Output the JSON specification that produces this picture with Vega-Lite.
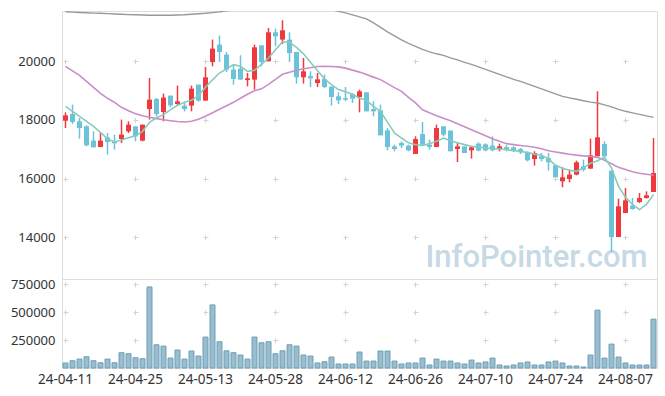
{
"$schema": "https://vega.github.io/schema/vega-lite/v6.json",
"padding": {"left": 0, "top": 10, "right": 9, "bottom": 0},
"autosize": {"type": "pad"},
"background": "white",
"spacing": 0,
"bounds": "flush",
"config": {
  "font": "Noto Sans",
  "view": {"stroke": "#dedede"},
  "axis": {"labelFont": "Noto Sans", "labelFontSize": 13, "labelColor": "#333333", "ticks": false, "tickSize": 0, "domain": false, "gridColor": "#d3d3d3", "title": null}
},
"datasets": {"p": [
{"d":"24-04-11","o":17978,"h":18261,"l":17726,"c":18159,"v":45000,"m5":18466,"m20":19830,"m60":21688},
{"d":"24-04-12","o":18203,"h":18524,"l":17863,"c":17931,"v":65000,"m5":18296,"m20":19676,"m60":21677},
{"d":"24-04-15","o":17955,"h":18067,"l":17365,"c":17726,"v":80000,"m5":18125,"m20":19523,"m60":21664},
{"d":"24-04-16","o":17784,"h":17818,"l":17102,"c":17136,"v":101000,"m5":17955,"m20":19318,"m60":21653},
{"d":"24-04-17","o":17297,"h":17614,"l":17068,"c":17068,"v":65000,"m5":17784,"m20":19114,"m60":21643},
{"d":"24-04-18","o":17078,"h":17556,"l":17078,"c":17297,"v":47000,"m5":17580,"m20":18909,"m60":21636},
{"d":"24-04-19","o":17409,"h":17556,"l":16819,"c":17249,"v":80000,"m5":17358,"m20":18739,"m60":21626},
{"d":"24-04-22","o":17273,"h":17501,"l":16990,"c":17205,"v":47000,"m5":17249,"m20":18602,"m60":21612},
{"d":"24-04-23","o":17351,"h":18013,"l":17215,"c":17501,"v":137000,"m5":17317,"m20":18432,"m60":21602},
{"d":"24-04-24","o":17614,"h":17955,"l":17556,"c":17842,"v":128000,"m5":17392,"m20":18313,"m60":21592},
{"d":"24-04-25","o":17784,"h":17784,"l":17273,"c":17443,"v":92000,"m5":17460,"m20":18210,"m60":21585},
{"d":"24-04-26","o":17297,"h":17842,"l":17273,"c":17842,"v":83000,"m5":17614,"m20":18142,"m60":21578},
{"d":"24-04-29","o":18374,"h":19431,"l":18013,"c":18694,"v":726000,"m5":17920,"m20":18091,"m60":21571},
{"d":"24-04-30","o":18715,"h":18749,"l":18125,"c":18203,"v":208000,"m5":18074,"m20":18047,"m60":21568},
{"d":"24-05-02","o":18272,"h":18899,"l":17955,"c":18763,"v":196000,"m5":18183,"m20":18006,"m60":21568},
{"d":"24-05-03","o":18831,"h":18831,"l":18432,"c":18500,"v":89000,"m5":18347,"m20":17975,"m60":21571},
{"d":"24-05-07","o":18544,"h":19172,"l":18490,"c":18636,"v":161000,"m5":18500,"m20":17948,"m60":21578},
{"d":"24-05-08","o":18490,"h":18602,"l":18295,"c":18374,"v":80000,"m5":18602,"m20":17934,"m60":21585},
{"d":"24-05-09","o":18490,"h":19172,"l":18295,"c":19069,"v":152000,"m5":18671,"m20":17955,"m60":21602},
{"d":"24-05-10","o":19206,"h":19206,"l":18626,"c":18660,"v":107000,"m5":18841,"m20":18023,"m60":21619},
{"d":"24-05-13","o":18660,"h":19806,"l":18660,"c":19455,"v":277000,"m5":19114,"m20":18125,"m60":21636},
{"d":"24-05-14","o":19976,"h":20740,"l":19830,"c":20433,"v":565000,"m5":19369,"m20":18245,"m60":21660},
{"d":"24-05-16","o":20569,"h":20876,"l":19976,"c":20317,"v":235000,"m5":19601,"m20":18364,"m60":21688},
{"d":"24-05-17","o":20228,"h":20317,"l":19635,"c":19717,"v":154000,"m5":19744,"m20":18483,"m60":21722},
{"d":"24-05-20","o":19717,"h":19887,"l":19206,"c":19397,"v":137000,"m5":19887,"m20":18602,"m60":21756},
{"d":"24-05-21","o":19751,"h":20205,"l":19376,"c":19376,"v":116000,"m5":19830,"m20":18739,"m60":21790},
{"d":"24-05-22","o":19362,"h":19601,"l":19148,"c":19420,"v":80000,"m5":19659,"m20":18875,"m60":21824},
{"d":"24-05-23","o":19376,"h":20569,"l":19035,"c":20477,"v":277000,"m5":19693,"m20":18994,"m60":21858},
{"d":"24-05-24","o":20545,"h":20545,"l":19830,"c":19976,"v":226000,"m5":19898,"m20":19063,"m60":21892},
{"d":"24-05-27","o":20000,"h":21135,"l":20000,"c":20989,"v":235000,"m5":20113,"m20":19216,"m60":21909},
{"d":"24-05-28","o":20989,"h":21115,"l":20511,"c":20852,"v":128000,"m5":20392,"m20":19386,"m60":21926},
{"d":"24-05-29","o":20740,"h":21398,"l":20590,"c":21057,"v":154000,"m5":20665,"m20":19557,"m60":21943},
{"d":"24-05-30","o":20740,"h":20989,"l":19976,"c":20283,"v":208000,"m5":20648,"m20":19625,"m60":21943},
{"d":"24-05-31","o":20317,"h":20317,"l":19240,"c":19455,"v":196000,"m5":20477,"m20":19693,"m60":21926},
{"d":"24-06-03","o":19455,"h":20113,"l":19240,"c":19659,"v":116000,"m5":20256,"m20":19744,"m60":21909},
{"d":"24-06-04","o":19499,"h":19659,"l":19124,"c":19420,"v":107000,"m5":19966,"m20":19778,"m60":21875},
{"d":"24-06-05","o":19260,"h":19601,"l":19124,"c":19386,"v":45000,"m5":19676,"m20":19823,"m60":21841},
{"d":"24-06-07","o":19397,"h":19547,"l":19090,"c":19124,"v":56000,"m5":19403,"m20":19830,"m60":21807},
{"d":"24-06-10","o":19138,"h":19138,"l":18490,"c":18783,"v":98000,"m5":19206,"m20":19823,"m60":21756},
{"d":"24-06-11","o":18807,"h":18943,"l":18544,"c":18670,"v":36000,"m5":19035,"m20":19809,"m60":21705},
{"d":"24-06-12","o":18749,"h":19124,"l":18636,"c":18694,"v":36000,"m5":18960,"m20":19768,"m60":21653},
{"d":"24-06-13","o":18885,"h":18919,"l":18578,"c":18728,"v":36000,"m5":18875,"m20":19700,"m60":21585},
{"d":"24-06-14","o":18783,"h":19035,"l":18261,"c":18977,"v":143000,"m5":18739,"m20":19632,"m60":21517},
{"d":"24-06-17","o":18943,"h":18943,"l":18295,"c":18295,"v":62000,"m5":18671,"m20":19547,"m60":21449},
{"d":"24-06-18","o":18374,"h":18636,"l":18125,"c":18295,"v":62000,"m5":18466,"m20":19461,"m60":21312},
{"d":"24-06-19","o":18330,"h":18524,"l":17477,"c":17477,"v":152000,"m5":18296,"m20":19376,"m60":21159},
{"d":"24-06-20","o":17648,"h":17726,"l":16966,"c":17078,"v":152000,"m5":17920,"m20":19240,"m60":21006},
{"d":"24-06-21","o":17102,"h":17160,"l":16932,"c":17010,"v":62000,"m5":17556,"m20":19103,"m60":20869},
{"d":"24-06-24","o":17215,"h":17273,"l":17044,"c":17126,"v":36000,"m5":17385,"m20":18977,"m60":20733},
{"d":"24-06-25","o":17126,"h":17160,"l":16932,"c":16966,"v":45000,"m5":17222,"m20":18773,"m60":20614},
{"d":"24-06-26","o":16840,"h":17443,"l":16840,"c":17351,"v":45000,"m5":17154,"m20":18585,"m60":20511},
{"d":"24-06-27","o":17522,"h":17931,"l":17160,"c":17160,"v":89000,"m5":17136,"m20":18347,"m60":20409},
{"d":"24-06-28","o":17160,"h":17331,"l":16990,"c":17078,"v":27000,"m5":17188,"m20":18245,"m60":20324},
{"d":"24-07-01","o":17078,"h":17842,"l":17078,"c":17726,"v":80000,"m5":17273,"m20":18142,"m60":20256},
{"d":"24-07-02","o":17784,"h":17784,"l":17443,"c":17501,"v":62000,"m5":17385,"m20":18057,"m60":20205},
{"d":"24-07-03","o":17638,"h":17638,"l":16932,"c":16932,"v":62000,"m5":17290,"m20":17972,"m60":20119},
{"d":"24-07-04","o":17010,"h":17215,"l":16567,"c":17102,"v":45000,"m5":17222,"m20":17870,"m60":20051},
{"d":"24-07-05","o":17102,"h":17102,"l":16874,"c":16874,"v":36000,"m5":17161,"m20":17767,"m60":19966},
{"d":"24-07-08","o":16966,"h":17102,"l":16683,"c":17068,"v":71000,"m5":17103,"m20":17665,"m60":19898},
{"d":"24-07-09","o":17194,"h":17239,"l":16932,"c":16956,"v":45000,"m5":17075,"m20":17563,"m60":19813},
{"d":"24-07-10","o":17170,"h":17205,"l":16932,"c":16966,"v":54000,"m5":17044,"m20":17460,"m60":19727},
{"d":"24-07-11","o":17126,"h":17443,"l":16932,"c":16966,"v":89000,"m5":17024,"m20":17358,"m60":19642},
{"d":"24-07-12","o":17010,"h":17194,"l":16932,"c":17102,"v":27000,"m5":17010,"m20":17273,"m60":19557},
{"d":"24-07-15","o":17078,"h":17148,"l":16932,"c":17010,"v":18000,"m5":16990,"m20":17194,"m60":19472},
{"d":"24-07-16","o":17068,"h":17102,"l":16909,"c":16966,"v":27000,"m5":16956,"m20":17160,"m60":19386},
{"d":"24-07-17","o":17010,"h":17044,"l":16840,"c":16898,"v":45000,"m5":16932,"m20":17130,"m60":19318},
{"d":"24-07-18","o":16898,"h":16932,"l":16591,"c":16625,"v":54000,"m5":16888,"m20":17103,"m60":19233},
{"d":"24-07-19","o":16669,"h":16932,"l":16444,"c":16874,"v":27000,"m5":16837,"m20":17069,"m60":19148},
{"d":"24-07-22","o":16762,"h":16874,"l":16591,"c":16669,"v":27000,"m5":16796,"m20":17017,"m60":19063},
{"d":"24-07-23","o":16704,"h":16874,"l":16274,"c":16557,"v":54000,"m5":16676,"m20":16949,"m60":18977},
{"d":"24-07-24","o":16455,"h":16455,"l":16046,"c":16046,"v":62000,"m5":16455,"m20":16908,"m60":18892},
{"d":"24-07-25","o":15909,"h":16387,"l":15705,"c":16046,"v":45000,"m5":16352,"m20":16871,"m60":18807},
{"d":"24-07-26","o":15988,"h":16308,"l":15875,"c":16138,"v":18000,"m5":16284,"m20":16833,"m60":18756},
{"d":"24-07-29","o":16138,"h":16615,"l":16115,"c":16557,"v":18000,"m5":16250,"m20":16802,"m60":18705},
{"d":"24-07-30","o":16421,"h":16649,"l":16250,"c":16308,"v":9000,"m5":16369,"m20":16778,"m60":18654},
{"d":"24-07-31","o":16342,"h":17365,"l":16342,"c":16796,"v":116000,"m5":16523,"m20":16754,"m60":18609},
{"d":"24-08-01","o":16762,"h":18977,"l":16762,"c":17409,"v":518000,"m5":16608,"m20":16727,"m60":18578},
{"d":"24-08-02","o":17181,"h":17273,"l":16704,"c":16762,"v":89000,"m5":16727,"m20":16625,"m60":18517},
{"d":"24-08-05","o":16274,"h":16274,"l":13499,"c":14010,"v":214000,"m5":16363,"m20":16506,"m60":18449},
{"d":"24-08-06","o":14010,"h":15320,"l":14010,"c":15057,"v":98000,"m5":15739,"m20":16386,"m60":18364},
{"d":"24-08-07","o":14828,"h":15681,"l":14828,"c":15261,"v":45000,"m5":15364,"m20":16311,"m60":18296},
{"d":"24-08-08","o":15081,"h":15340,"l":14944,"c":14965,"v":27000,"m5":15125,"m20":16233,"m60":18244},
{"d":"24-08-09","o":15204,"h":15510,"l":15170,"c":15340,"v":27000,"m5":14945,"m20":16182,"m60":18193},
{"d":"24-08-12","o":15340,"h":15568,"l":15320,"c":15432,"v":27000,"m5":15125,"m20":16148,"m60":18142},
{"d":"24-08-13","o":15545,"h":17385,"l":15545,"c":16192,"v":437000,"m5":15456,"m20":16114,"m60":18091}
]},
"vconcat": [
{
  "width": 595,
  "height": 268,
  "data": {"name": "p"},
  "encoding": {
    "x": {"field": "d", "type": "ordinal", "scale": {"paddingInner": 0, "paddingOuter": 0},
      "axis": {"values": ["24-04-11","24-04-25","24-05-13","24-05-28","24-06-12","24-06-26","24-07-10","24-07-24","24-08-07"], "labels": false, "labelPadding": 0, "minExtent": 0, "maxExtent": 0, "grid": true, "gridDash": [5, 53.67], "gridDashOffset": 10.87, "title": null}}
  },
  "layer": [
    {
      "data": {"values": [{}]},
      "mark": {"type": "text", "text": "InfoPointer.com", "align": "right", "baseline": "alphabetic", "fontSize": 31, "fontWeight": 500, "font": "Roboto", "color": "#c6d9e5", "dx": -6},
      "encoding": {
        "x": {"datum": "24-08-13", "type": "ordinal"},
        "y": {"datum": 12990, "type": "quantitative"}
      }
    },
    {
      "mark": {"type": "rule", "strokeWidth": 1.5},
      "encoding": {
        "y": {"field": "l", "type": "quantitative", "scale": {"domain": [12580, 21715], "nice": false, "zero": false},
          "axis": {"values": [14000, 16000, 18000, 20000], "format": "d", "grid": true, "gridDash": [5, 65], "gridDashOffset": 69, "labelPadding": 7, "minExtent": 61, "maxExtent": 61, "title": null}},
        "y2": {"field": "h"},
        "color": {"condition": {"test": "datum.c >= datum.o", "value": "#ee3a3e"}, "value": "#6cc3d9"}
      }
    },
    {
      "mark": {"type": "bar", "size": 5},
      "encoding": {
        "y": {"field": "o", "type": "quantitative"},
        "y2": {"field": "c"},
        "color": {"condition": {"test": "datum.c >= datum.o", "value": "#ee3a3e"}, "value": "#6cc3d9"}
      }
    },
    {
      "mark": {"type": "line", "clip": true, "color": "#999999", "strokeWidth": 1.4},
      "encoding": {"y": {"field": "m60", "type": "quantitative"}}
    },
    {
      "mark": {"type": "line", "clip": true, "color": "#c98ec8", "strokeWidth": 1.6},
      "encoding": {"y": {"field": "m20", "type": "quantitative"}}
    },
    {
      "mark": {"type": "line", "clip": true, "color": "#86ccbd", "strokeWidth": 1.6},
      "encoding": {"y": {"field": "m5", "type": "quantitative"}}
    }
  ]
},
{
  "width": 595,
  "height": 89,
  "data": {"name": "p"},
  "mark": {"type": "bar", "size": 5, "fill": "#97bdce", "stroke": "#6e9fb6", "strokeWidth": 1},
  "encoding": {
    "x": {"field": "d", "type": "ordinal", "scale": {"paddingInner": 0, "paddingOuter": 0},
      "axis": {"values": ["24-04-11","24-04-25","24-05-13","24-05-28","24-06-12","24-06-26","24-07-10","24-07-24","24-08-07"], "labelAngle": 0, "labelPadding": 4, "labelFontSize": 13.5, "grid": true, "gridDash": [5, 23], "gridDashOffset": 25.2, "title": null}},
    "y": {"field": "v", "type": "quantitative", "scale": {"domain": [0, 797000], "nice": false},
      "axis": {"values": [250000, 500000, 750000], "format": "d", "grid": true, "gridDash": [5, 65], "gridDashOffset": 69, "labelPadding": 7, "minExtent": 61, "maxExtent": 61, "title": null}}
  }
}
]
}
